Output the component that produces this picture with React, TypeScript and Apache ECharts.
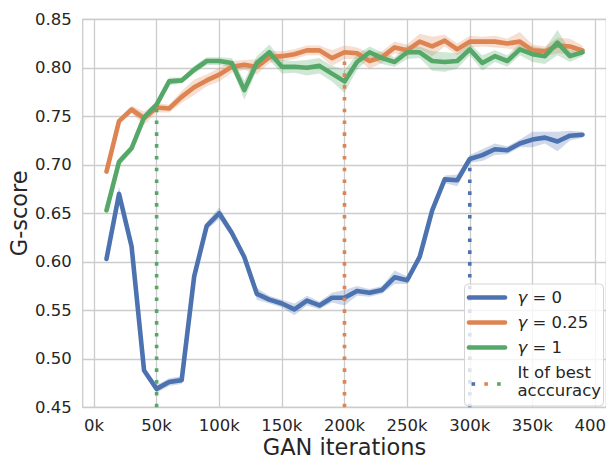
import React, { useEffect, useRef } from "react";
import * as echarts from "echarts";

// GAN iterations (thousands) at which the G-score was evaluated
const iterations = [
  10, 20, 30, 40, 50, 60, 70, 80, 90, 100, 110, 120, 130, 140, 150, 160, 170, 180, 190, 200,
  210, 220, 230, 240, 250, 260, 270, 280, 290, 300, 310, 320, 330, 340, 350, 360, 370, 380, 390,
];

// mean G-score per run configuration
const gamma0 = [
  0.603, 0.67, 0.616, 0.488, 0.469, 0.476, 0.478, 0.585, 0.637, 0.65, 0.63, 0.605, 0.567, 0.561,
  0.557, 0.551, 0.56, 0.555, 0.563, 0.563, 0.57, 0.568, 0.571, 0.584, 0.581, 0.605, 0.653, 0.685,
  0.684, 0.706, 0.71, 0.716, 0.715, 0.722, 0.726, 0.728, 0.724, 0.73, 0.731,
];
const gamma025 = [
  0.693, 0.745, 0.757, 0.748, 0.759, 0.758, 0.77, 0.78, 0.787, 0.793, 0.801, 0.803, 0.801, 0.811,
  0.812, 0.814, 0.818, 0.818, 0.81, 0.816, 0.815, 0.807, 0.811, 0.821, 0.818, 0.827, 0.822, 0.828,
  0.819, 0.827, 0.827, 0.827, 0.825, 0.827, 0.818, 0.817, 0.823, 0.822, 0.818,
];
const gamma1 = [
  0.653, 0.703, 0.717, 0.749, 0.762, 0.786, 0.787, 0.798, 0.807, 0.807, 0.805, 0.777, 0.805, 0.816,
  0.801, 0.801, 0.8, 0.802, 0.794, 0.786, 0.806, 0.816, 0.81, 0.806, 0.816, 0.816, 0.807, 0.806,
  0.807, 0.819, 0.805, 0.812, 0.807, 0.819, 0.814, 0.812, 0.826, 0.812, 0.816,
];

// half-width of the confidence band around each mean
const spread0 = [
  0.004, 0.008, 0.003, 0.003, 0.004, 0.004, 0.004, 0.003, 0.004, 0.006, 0.004, 0.004, 0.006, 0.004,
  0.004, 0.006, 0.005, 0.004, 0.005, 0.008, 0.005, 0.004, 0.004, 0.007, 0.004, 0.003, 0.003, 0.004,
  0.006, 0.004, 0.006, 0.006, 0.004, 0.004, 0.008, 0.006, 0.01, 0.005, 0.003,
];
const spread025 = [
  0.003, 0.003, 0.004, 0.007, 0.005, 0.004, 0.006, 0.008, 0.006, 0.007, 0.006, 0.005, 0.008, 0.006,
  0.005, 0.005, 0.005, 0.005, 0.008, 0.007, 0.006, 0.008, 0.006, 0.006, 0.006, 0.008, 0.01, 0.006,
  0.006, 0.006, 0.005, 0.006, 0.005, 0.01, 0.006, 0.005, 0.008, 0.008, 0.005,
];
const spread1 = [
  0.003, 0.004, 0.004, 0.003, 0.004, 0.004, 0.003, 0.004, 0.004, 0.004, 0.005, 0.01, 0.007, 0.008,
  0.007, 0.006, 0.008, 0.008, 0.008, 0.012, 0.008, 0.006, 0.006, 0.005, 0.007, 0.006, 0.01, 0.01,
  0.008, 0.006, 0.008, 0.006, 0.006, 0.006, 0.008, 0.008, 0.013, 0.006, 0.004,
];

// iteration (thousands) of best accuracy for each configuration
const bestIteration = [300, 200, 50];

const seriesNames = ["γ = 0", "γ = 0.25", "γ = 1"];
const xTicks = [0, 50, 100, 150, 200, 250, 300, 350, 400];

const COLORS = ["#4C72B0", "#DD8452", "#55A868"];
const BANDS = ["rgba(76,114,176,0.27)", "rgba(221,132,82,0.27)", "rgba(85,168,104,0.27)"];
const FONT = "DejaVu Sans";
const TEXT = "#262626";
const GRID = "#cccccc";

export default function App() {
  const ref = useRef<HTMLDivElement>(null);

  useEffect(() => {
    if (!ref.current) return;
    const chart = echarts.init(ref.current, undefined, { renderer: "svg" });

    const means = [gamma0, gamma025, gamma1];
    const spreads = [spread0, spread025, spread1];

    // confidence bands: one polygon per configuration, traced through the axes
    const bandSeries = means.map((m, k) => {
      const s = spreads[k];
      return {
        type: "custom",
        name: "band" + k,
        data: iterations.map((x, i) => [x, m[i] - s[i], m[i] + s[i]]),
        encode: { x: 0, y: [1, 2] },
        silent: true,
        z: 1,
        renderItem: (params: any, api: any) => {
          if (params.dataIndex !== 0) return null;
          const upper = iterations.map((x, i) => api.coord([x, m[i] + s[i]]));
          const lower = iterations.map((x, i) => api.coord([x, m[i] - s[i]])).reverse();
          return {
            type: "polygon",
            shape: { points: upper.concat(lower) },
            style: { fill: BANDS[k], stroke: "none" },
          };
        },
      };
    });

    const lineSeries = means.map((m, k) => ({
      type: "line",
      name: seriesNames[k],
      data: iterations.map((x, i) => [x, m[i]]),
      symbol: "none",
      lineStyle: { color: COLORS[k], width: 4.6, cap: "round", join: "round" },
      z: 3,
    }));

    const bestSeries = means.map((m, k) => {
      const it = bestIteration[k];
      const v = m[iterations.indexOf(it)];
      return {
        type: "line",
        name: "best" + k,
        data: [
          [it, 0.45],
          [it, v],
        ],
        symbol: "none",
        lineStyle: { color: COLORS[k], width: 3.6, type: [3.6, 8.2], cap: "butt" },
        z: 4,
      };
    });

    // legend drawn by hand so the multi-coloured dotted sample can be shown
    const lx = 464.5;
    const ly = 284;
    const legendItems: any[] = [
      {
        type: "rect",
        shape: { x: lx, y: ly, width: 139, height: 122, r: 4 },
        style: { fill: "rgba(255,255,255,0.8)", stroke: "#d4d4d4", lineWidth: 1 },
        z: 100,
      },
    ];
    const rows = [297.5, 322.5, 347.5];
    seriesNames.forEach((n, k) => {
      legendItems.push({
        type: "line",
        shape: { x1: lx + 4.5, y1: rows[k], x2: lx + 40.5, y2: rows[k] },
        style: { stroke: COLORS[k], lineWidth: 4.6, lineCap: "round" },
        z: 101,
      });
      const rest = n.slice(1);
      legendItems.push({
        type: "text",
        x: lx + 53,
        y: rows[k],
        style: {
          text: "{g|γ}" + rest,
          fontFamily: FONT,
          fontSize: 16.5,
          fill: TEXT,
          verticalAlign: "middle",
          rich: { g: { fontFamily: FONT, fontStyle: "italic", fontSize: 16.5, fill: TEXT } },
        },
        z: 101,
      });
    });
    [0, 1, 2].forEach((k) => {
      legendItems.push({
        type: "rect",
        shape: { x: lx + 7 + k * 12.8, y: 382.2, width: 3.6, height: 3.6 },
        style: { fill: COLORS[k] },
        z: 101,
      });
    });
    legendItems.push({
      type: "text",
      x: lx + 53,
      y: 381.5,
      style: {
        text: "It of best\nacccuracy",
        fontFamily: FONT,
        fontSize: 16.5,
        lineHeight: 17.5,
        fill: TEXT,
        verticalAlign: "middle",
      },
      z: 101,
    });

    chart.setOption({
      animation: false,
      backgroundColor: "#ffffff",
      grid: {
        left: 82.7,
        top: 19.3,
        width: 523.6,
        height: 388,
        show: true,
        borderColor: GRID,
        borderWidth: 1.3,
        backgroundColor: "#ffffff",
        containLabel: false,
        outerBoundsMode: "none",
      },
      xAxis: {
        type: "value",
        min: -9,
        max: 409,
        name: "GAN iterations",
        nameLocation: "middle",
        nameGap: 28,
        nameMoveOverlap: false,
        nameTextStyle: { fontFamily: FONT, fontSize: 22.5, color: TEXT },
        axisLine: { show: false },
        axisTick: { show: false, customValues: xTicks },
        axisLabel: {
          customValues: xTicks,
          formatter: (v: number) => v + "k",
          fontFamily: FONT,
          fontSize: 16.5,
          color: TEXT,
          margin: 10,
          hideOverlap: false,
        },
        splitLine: { show: true, lineStyle: { color: GRID, width: 1.3 } },
      },
      yAxis: {
        type: "value",
        min: 0.45,
        max: 0.85,
        interval: 0.05,
        name: "G-score",
        nameLocation: "middle",
        nameGap: 52,
        nameMoveOverlap: false,
        nameTextStyle: { fontFamily: FONT, fontSize: 22.5, color: TEXT },
        axisLine: { show: false },
        axisTick: { show: false },
        axisLabel: {
          formatter: (v: number) => v.toFixed(2),
          fontFamily: FONT,
          fontSize: 16.5,
          color: TEXT,
          margin: 11,
        },
        splitLine: { show: true, lineStyle: { color: GRID, width: 1.3 } },
      },
      series: [...bandSeries, ...lineSeries, ...bestSeries],
      graphic: legendItems,
    });

    return () => chart.dispose();
  }, []);

  return (
    <div style={{ position: "fixed", left: 0, top: 0, width: 606, height: 457, background: "#fff" }}>
      <div ref={ref} style={{ width: 606, height: 457 }} />
    </div>
  );
}
